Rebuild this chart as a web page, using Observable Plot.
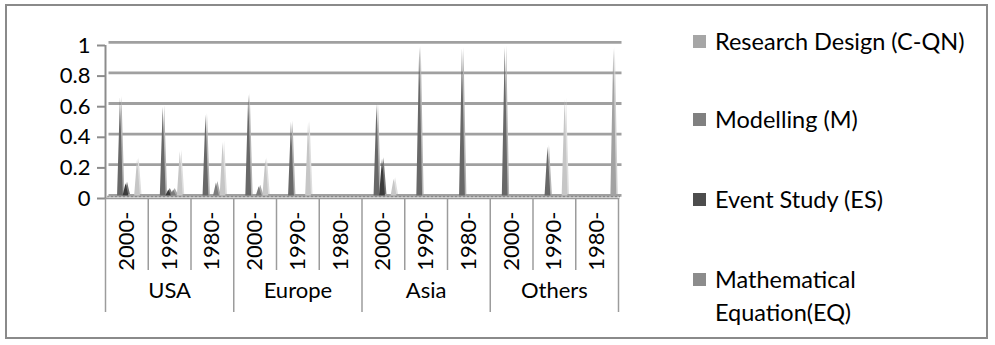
<!DOCTYPE html>
<html>
<head>
<meta charset="utf-8">
<script src="https://cdn.jsdelivr.net/npm/d3@7"></script>
<script src="https://cdn.jsdelivr.net/npm/@observablehq/plot@0.6"></script>
<style>
  html, body { margin: 0; padding: 0; background: #fff; }
  #chart { position: relative; width: 995px; height: 345px; font-family: Lato, "Open Sans", sans-serif; color: #000; }
  #frame { position: absolute; left: 5px; top: 4px; width: 983px; height: 335px; border: 2px solid #8a8a8a; box-sizing: border-box; }
  #plot { position: absolute; left: 0; top: 0; }
  #legend { position: absolute; left: 693px; top: 0; width: 300px; height: 345px; }
  .item { position: absolute; left: 0; font-size: 23.5px; line-height: 33px; }
  .swatch { position: absolute; left: 0; top: 10px; width: 13px; height: 13px; }
  .label { position: absolute; left: 22px; top: 0; width: 262px; white-space: normal; }
</style>
</head>
<body>
<div id="chart">
  <div id="frame"></div>
  <div id="plot"></div>
  <div id="legend"></div>
</div>
<script>
// Category hierarchy: region > decade
const regions = ["USA", "Europe", "Asia", "Others"];
const decades = ["2000-", "1990-", "1980-"];

// Share of studies per region/decade (USA 2000-, USA 1990-, ..., Others 1980-)
const modelling      = [0.64, 0.58, 0.53, 0.66, 0.48, 0, 0.60, 0.97, 0.96, 0.97, 0.32, 0];
const eventStudy     = [0.08, 0.04, 0, 0, 0, 0, 0.24, 0, 0, 0, 0, 0];
const mathEquation   = [0, 0.04, 0.085, 0.06, 0, 0, 0, 0, 0, 0, 0, 0];
const researchDesign = [0.24, 0.29, 0.35, 0.24, 0.48, 0, 0.11, 0, 0, 0, 0.63, 0];
const otherMethod    = [0, 0, 0, 0, 0, 0, 0, 0, 0, 0, 0, 0.96];

const yTicks = [0, 0.2, 0.4, 0.6, 0.8, 1];

// Series: name (legend), values, slot inside each decade band, colours
const series = [
  {name: "Modelling (M)", values: modelling, slot: 0.35, fill: "#686868", edge: "#b4b4b4", key: "#808080"},
  {name: "Event Study (ES)", values: eventStudy, slot: 0.48, fill: "#3c3c3c", edge: "#777777", key: "#4d4d4d"},
  {name: "Mathematical Equation(EQ)", values: mathEquation, slot: 0.595, fill: "#7c7c7c", edge: "#a8a8a8", key: "#8c8c8c"},
  {name: "Research Design (C-QN)", values: researchDesign, slot: 0.75, fill: "#c6c6c6", edge: "#dedede", key: "#a6a6a6"},
  {name: "other", values: otherMethod, slot: 0.89, fill: "#a2a2a2", edge: "#cfcfcf", key: "#a2a2a2"}
];
const legendOrder = ["Research Design (C-QN)", "Modelling (M)", "Event Study (ES)", "Mathematical Equation(EQ)"];

const nGroups = regions.length * decades.length;
const halfWidth = 0.068; // half of a spike's base, in band units

// Turn one series into a ribbon running along the floor with a spike per non-zero value
function ribbon(s) {
  const pts = [{x: 0, y: 0}];
  s.values.forEach((v, i) => {
    if (v > 0) {
      const c = i + s.slot;
      pts.push({x: c - halfWidth, y: 0}, {x: c, y: v}, {x: c + halfWidth, y: 0});
    }
  });
  pts.push({x: nGroups, y: 0});
  return pts;
}

const spikeMarks = series.flatMap((s) => {
  const pts = ribbon(s);
  return [
    Plot.areaY(pts, {x: "x", y: "y", fill: s.edge, dx: 1.5, dy: -4}),
    Plot.areaY(pts, {x: "x", y: "y", fill: s.fill, dx: 0, dy: -2.5})
  ];
});

const decadeCenters = d3.range(nGroups).map((i) => i + 0.5);
const regionCenters = regions.map((_, r) => r * decades.length + decades.length / 2);
const decadeBounds = d3.range(nGroups + 1).filter((i) => i % decades.length !== 0);
const regionBounds = d3.range(0, nGroups + 1, decades.length);

const chart = Plot.plot({
  width: 640,
  height: 345,
  marginLeft: 105,
  marginRight: 22,
  marginTop: 45,
  marginBottom: 147,
  x: {domain: [0, nGroups], label: null},
  y: {domain: [0, 1], label: null},
  style: {fontFamily: "Lato, 'Open Sans', sans-serif", fontSize: "22px", color: "#000", background: "transparent", overflow: "visible"},
  marks: [
    // floor slab
    Plot.ruleY([0], {x1: 0, x2: nGroups, stroke: "#e4e4e4", strokeWidth: 4, dx: 2, dy: -1.5}),
    // back-wall gridlines
    Plot.ruleY(yTicks, {x1: 0, x2: nGroups, stroke: "#a0a0a0", strokeWidth: 2.8, dx: 3.5, dy: -3.2}),
    Plot.ruleY([0], {x1: 0, x2: nGroups, stroke: "#444", strokeWidth: 1, strokeDasharray: "2,2", strokeOpacity: 0.45, dx: 2, dy: -1.8}),
    ...spikeMarks,
    // floor front edge
    Plot.ruleY([0], {x1: 0, x2: nGroups, stroke: "#9a9a9a", strokeWidth: 1.6}),
    // value axis
    Plot.ruleX([0], {y1: 0, y2: 1, stroke: "#8c8c8c", strokeWidth: 2}),
    Plot.axisY(yTicks, {label: null, tickSize: 8, tickPadding: 7, stroke: "#8c8c8c", strokeWidth: 2, fill: "#000", tickFormat: (d) => String(d)}),
    // category axis: dividers
    Plot.axisX(decadeBounds, {label: null, tickSize: 72, stroke: "#9c9c9c", strokeWidth: 1.5, tickFormat: () => ""}),
    Plot.axisX(regionBounds, {label: null, tickSize: 114, stroke: "#9c9c9c", strokeWidth: 1.5, tickFormat: () => ""}),
    // category axis: labels
    Plot.axisX(decadeCenters, {label: null, tickSize: 0, tickPadding: 13, tickRotate: -90, fill: "#000", tickFormat: (d) => decades[Math.floor(d) % decades.length]}),
    Plot.axisX(regionCenters, {label: null, tickSize: 0, tickPadding: 84, fill: "#000", tickFormat: (d) => regions[Math.floor(d / decades.length)]})
  ]
});
document.getElementById("plot").append(chart);

// Legend
const legendTops = [25, 103, 183, 263];
const legend = document.getElementById("legend");
legendOrder.forEach((name, k) => {
  const s = series.find((d) => d.name === name);
  const item = document.createElement("div");
  item.className = "item";
  item.style.top = legendTops[k] + "px";
  const sw = document.createElement("div");
  sw.className = "swatch";
  sw.style.background = s.key;
  const lab = document.createElement("div");
  lab.className = "label";
  lab.textContent = s.name;
  item.append(sw, lab);
  legend.append(item);
});
</script>
</body>
</html>
